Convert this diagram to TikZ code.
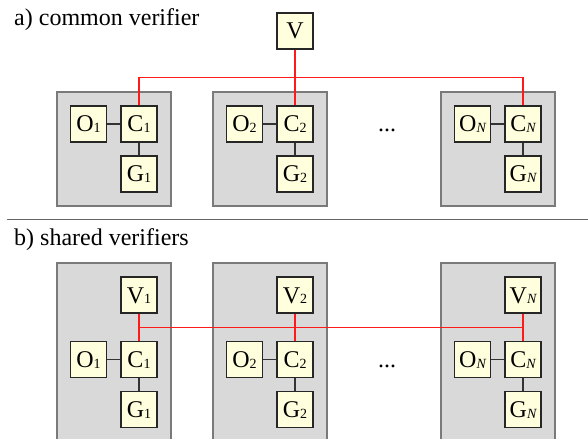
\documentclass[tikz,border=0pt]{standalone}
\usepackage{fontspec}
\setmainfont{Liberation Serif}
\definecolor{boxgray}{HTML}{D9D9D9}
\definecolor{boxedge}{HTML}{7A7A7A}
\definecolor{nodefill}{HTML}{FFFFDD}
\definecolor{vred}{HTML}{FF1A1A}
\definecolor{sepgray}{HTML}{666666}
\newcommand{\sbs}[1]{\raisebox{-0.6bp}{\fontsize{14bp}{14bp}\selectfont #1}}
\tikzset{
  unit/.style={draw=black!85, fill=nodefill, line width=1.3bp, minimum size=36bp, inner sep=0pt,
    font=\fontsize{24bp}{24bp}\selectfont, text height=16bp, text depth=0pt},
  host/.style={draw=boxedge, fill=boxgray, line width=1.2bp, minimum width=114bp, inner sep=0pt},
  link/.style={line width=1.5bp, draw=black!80},
  vlink/.style={line width=1.6bp, draw=vred},
  buslink/.style={line width=1.6bp, draw=vred},
  dotsnode/.style={font=\fontsize{24bp}{24bp}\selectfont, text height=16bp, text depth=0pt, inner sep=0pt, minimum size=36bp},
  titletext/.style={anchor=base west, font=\fontsize{24bp}{24bp}\selectfont, inner sep=0pt},
}
\begin{document}
\begin{tikzpicture}[x=1bp,y=-1bp]
\path[use as bounding box] (0,0) rectangle (588,439);
\clip (0,0) rectangle (588,439);

% ---- a) common verifier
\node[titletext] (ta) at (14,26) {a) common verifier};
\foreach \n/\bx/\s in {1/114/1, 2/270/2, N/498/{\itshape N}} {
  \node[host, minimum height=114bp] (Ba\n) at (\bx,149) {};
  \node[unit] (Oa\n) at (\bx-25.5,124) {O\sbs{\s}};
  \node[unit] (Ca\n) at (\bx+25,124) {C\sbs{\s}};
  \node[unit] (Ga\n) at (\bx+25,174) {G\sbs{\s}};
  \draw[link] (Oa\n) -- (Ca\n);
  \draw[link] (Ca\n) -- (Ga\n);
}
\node[dotsnode] (da) at (387,124) {...};
\node[unit] (Va) at (295,31) {V};
\coordinate (busa) at (295,77.5);
\draw[vlink] (Va) -- (Ca2);
\draw[buslink] (Ca1.north) -- (Ca1.north |- busa) -- (CaN.north |- busa) -- (CaN.north);

% ---- separator
\coordinate (sepL) at (7,219.5);
\coordinate (sepR) at (588,219.5);
\draw[sepgray, line width=1.2bp] (sepL) -- (sepR);

% ---- b) shared verifiers
\node[titletext] (tb) at (14,246) {b) shared verifiers};
\foreach \n/\bx/\s in {1/114/1, 2/270/2, N/498/{\itshape N}} {
  \node[host, minimum height=200bp] (Bb\n) at (\bx,363) {};
  \node[unit] (Vb\n) at (\bx+25,295) {V\sbs{\s}};
  \node[unit] (Ob\n) at (\bx-25.5,359.5) {O\sbs{\s}};
  \node[unit] (Cb\n) at (\bx+25,359.5) {C\sbs{\s}};
  \node[unit] (Gb\n) at (\bx+25,409.5) {G\sbs{\s}};
  \draw[link] (Ob\n) -- (Cb\n);
  \draw[link] (Cb\n) -- (Gb\n);
  \draw[vlink] (Vb\n) -- (Cb\n);
}
\node[dotsnode] (db) at (387,359.5) {...};
\coordinate (busb) at (0,327.5);
\draw[buslink] (Vb1.south |- busb) -- (VbN.south |- busb);
\end{tikzpicture}
\end{document}
